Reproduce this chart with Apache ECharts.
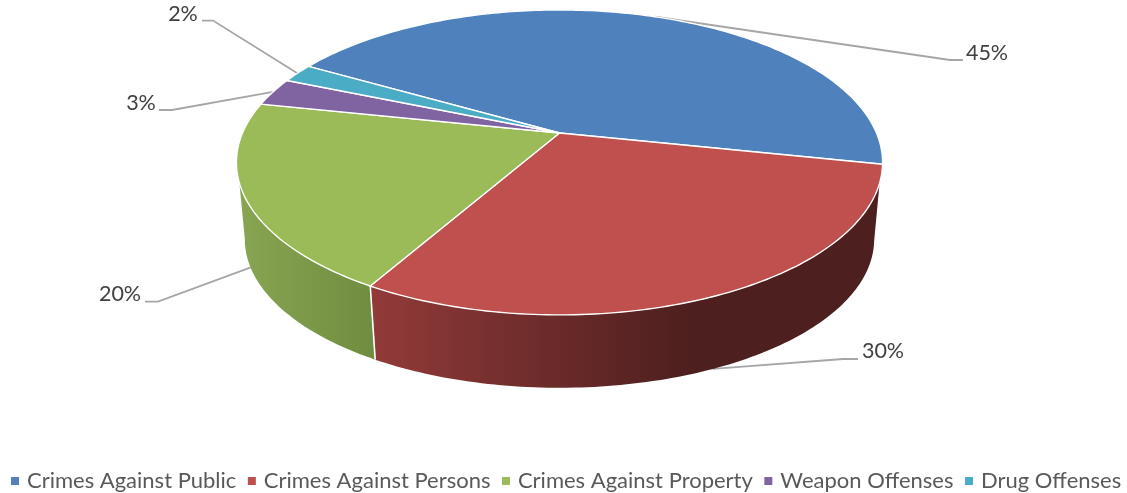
<!DOCTYPE html>
<html>
<head>
<meta charset="utf-8">
<style>html,body{margin:0;padding:0;background:#fff}#c{width:1127px;height:493px}</style>
<script src="https://cdn.jsdelivr.net/npm/echarts@6/dist/echarts.min.js"></script>
</head>
<body>
<div id="c"></div>
<script>
// data
const categories = ['Crimes Against Public', 'Crimes Against Persons', 'Crimes Against Property', 'Weapon Offenses', 'Drug Offenses'];
const values = [45, 30, 20, 3, 2];
const colors = ['#4f81bd', '#c0504d', '#9bbb59', '#8064a2', '#4bacc6'];

// layout of the tilted pie (perspective projection of a disc)
const startDeg = 299.8, apexX = 559.5, apexY = 133, radX = 317, radY = 146.8, persp = -0.193;
const depthY = 77.6, depthScale = 0.974;
const frontTop = [468.7, 611.3], frontBottom = [461, 619];
const font = 'Lato, Carlito, sans-serif';
// label layout: label x, label y (centre), elbow x, elbow y, line end x, wall fraction of the anchor
const labelX = [987, 883, 120, 141, 183];
const labelY = [53, 351, 294, 103, 14];
const elbowX = [950, 843, 158, 172, 213];
const elbowY = [60, 359, 301.7, 110, 20.6];
const tailX = [963, 858, 145, 159, 202];
const anchorDrop = [0, 1, 0.9, 0, 0];

const total = values.reduce((a, b) => a + b, 0);
function rim(deg, drop) {
  const t = deg * Math.PI / 180, X = Math.sin(t), Y = -Math.cos(t), d = 1 + persp * Y;
  const s = 1 - (1 - depthScale) * drop;
  return [apexX + s * radX * X / d, apexY + depthY * drop + s * radY * Y / d];
}
function arc(a, b, drop) {
  const pts = [], n = Math.max(2, Math.ceil(Math.abs(b - a)));
  for (let i = 0; i <= n; i++) pts.push(rim(a + (b - a) * i / n, drop));
  return pts;
}
function sliceRange(i) {
  let before = 0;
  for (let k = 0; k < i; k++) before += values[k];
  return [startDeg + before / total * 360, startDeg + (before + values[i]) / total * 360];
}
const wallFills = [null,
  new echarts.graphic.LinearGradient(370, 0, 690, 0, [{offset: 0, color: '#923b39'}, {offset: 1, color: '#4d1f1e'}], true),
  new echarts.graphic.LinearGradient(240, 0, 375, 0, [{offset: 0, color: '#88a552'}, {offset: 1, color: '#708c40'}], true),
  null, null];

function makeRender(i) {
  return function (params, api) {
    const val = api.value(0);
    const r = sliceRange(i), a = r[0], b = a + val / total * 360, mid = (a + b) / 2;
    const children = [];
    // side wall
    const t0 = Math.max(a, frontTop[0]), t1 = Math.min(b, frontTop[1]);
    const b0 = Math.max(a, frontBottom[0]), b1 = Math.min(b, frontBottom[1]);
    if (wallFills[i] && t1 > t0) {
      children.push({type: 'polygon', z2: 5, shape: {points: arc(t0, t1, 0).concat(arc(b1, b0, 1))},
        style: {fill: wallFills[i]}});
      if (a > frontTop[0]) {
        children.push({type: 'polyline', z2: 6, shape: {points: [rim(a, 0), rim(a, 1)]},
          style: {fill: null, stroke: '#fff', lineWidth: 1.6}});
      }
    }
    // top face
    children.push({type: 'polygon', z2: 10, shape: {points: [[apexX, apexY]].concat(arc(a, b, 0))},
      style: {fill: api.visual('color'), stroke: '#fff', lineWidth: 1.4, lineJoin: 'round'}});
    // leader line and percent label
    const drop = anchorDrop[i];
    const end = rim(mid, drop);
    children.push({type: 'polyline', z2: 3, shape: {points: [[tailX[i], elbowY[i]], [elbowX[i], elbowY[i]], end]},
      style: {fill: null, stroke: '#a6a6a6', lineWidth: 1.8}});
    children.push({type: 'text', z2: 20, x: labelX[i], y: labelY[i],
      style: {text: Math.round(val / total * 100) + '%', fill: '#404040', font: '21.5px ' + font, textAlign: 'center', textVerticalAlign: 'middle'}});
    return {type: 'group', children};
  };
}

const chart = echarts.init(document.getElementById('c'), null, {renderer: 'canvas'});
chart.setOption({
  animation: false,
  backgroundColor: '#fff',
  tooltip: {show: false},
  legend: {
    data: categories, left: 6, top: 465, width: 1121, padding: [5, 0, 5, 5], itemWidth: 8, itemHeight: 8, itemGap: 11.5, icon: 'rect',
    selectedMode: false,
    textStyle: {fontFamily: font, fontSize: 22, color: '#595959', padding: [0, 0, 0, 3]}
  },
  series: categories.map((name, i) => ({
    type: 'custom', name, coordinateSystem: 'none', silent: true,
    itemStyle: {color: colors[i]},
    data: [[values[i]]],
    renderItem: makeRender(i)
  }))
});
</script>
</body>
</html>
